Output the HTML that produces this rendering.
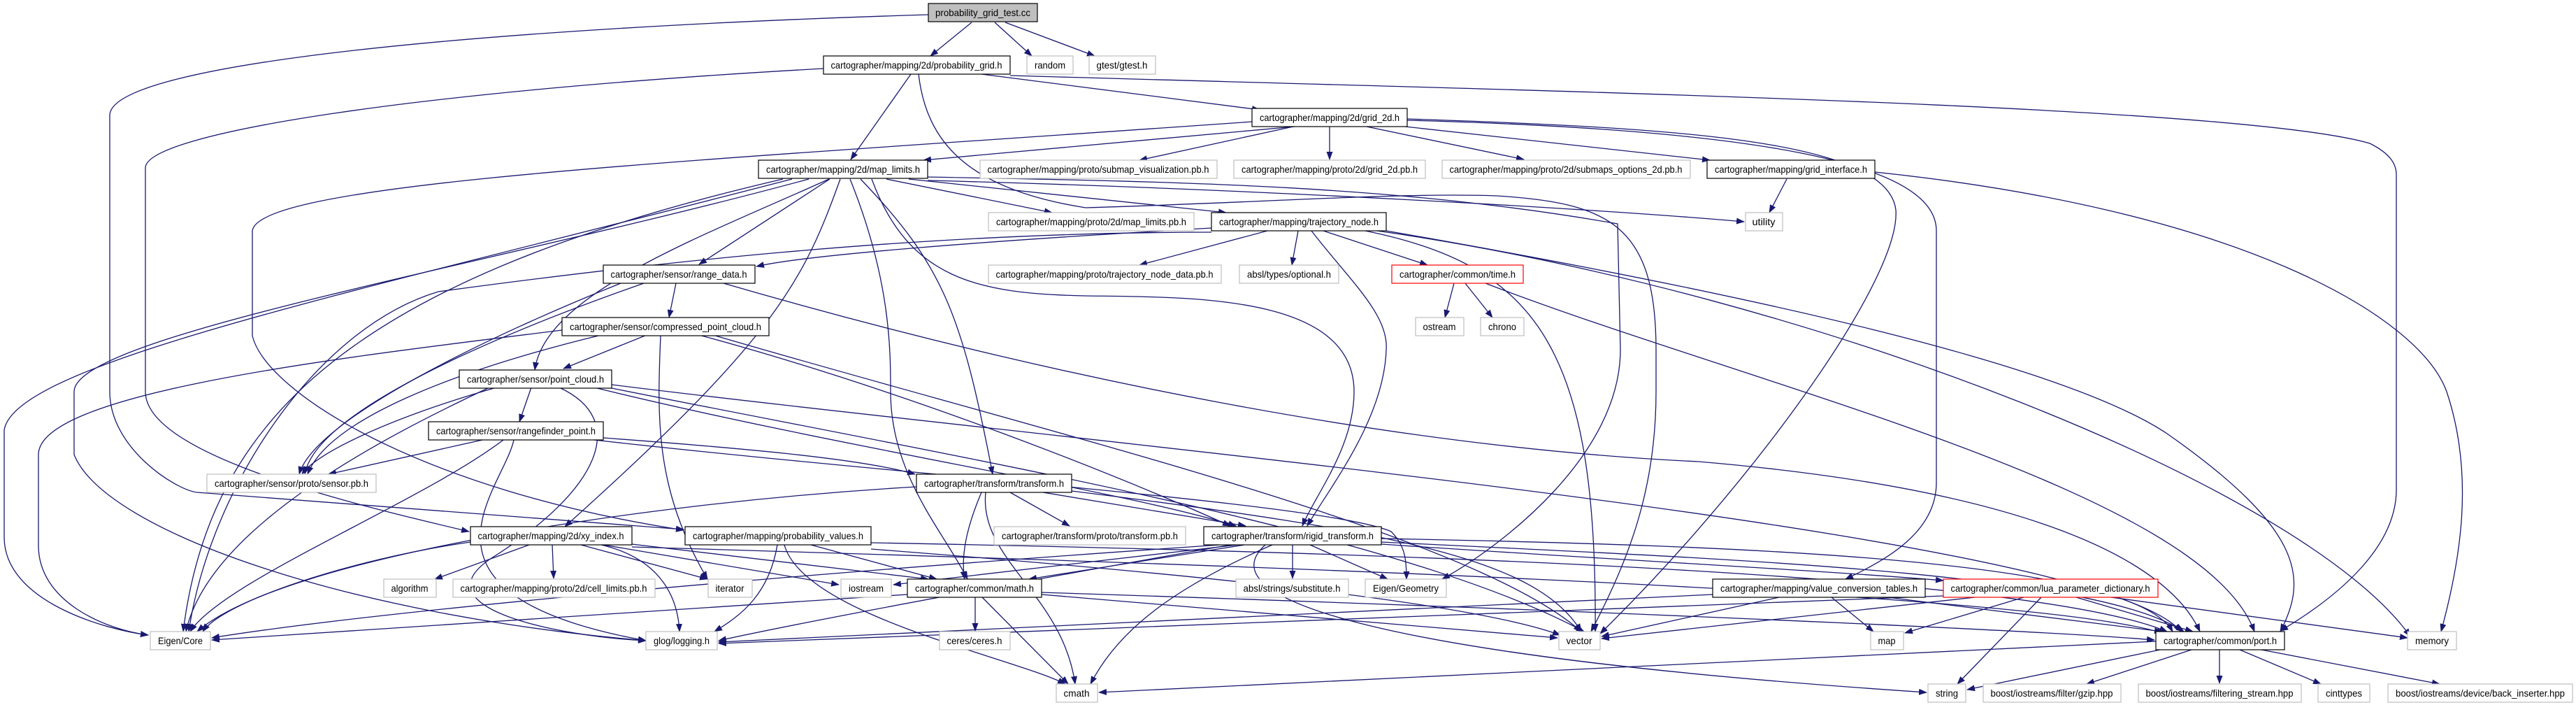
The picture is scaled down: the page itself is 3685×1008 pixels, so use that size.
<!DOCTYPE html>
<html><head><meta charset="utf-8"><style>
html,body{margin:0;padding:0;background:#fff;}
svg{display:block;}
text{font-family:"Liberation Sans",sans-serif;font-size:14px;fill:#000;}
.e{fill:none;stroke:#191970;stroke-width:1.3;}
.d{fill:#fff;stroke:#000;stroke-width:1.2;}
.u{fill:#fff;stroke:#bfbfbf;stroke-width:1.2;}
.r{fill:#fff;stroke:#ff0000;stroke-width:1.2;}
.s{fill:#555;}
</style></head><body>
<svg width="3685" height="1008" viewBox="0 0 3685 1008" xmlns="http://www.w3.org/2000/svg">
<defs><marker id="a" markerWidth="12" markerHeight="9" refX="11" refY="4.5" orient="auto" markerUnits="userSpaceOnUse"><path d="M0,0 L12,4.5 L0,9 z" fill="#191970"/></marker></defs>
<g marker-end="url(#a)" class="e">
<!-- test.cc -->
<path d="M1390,32 L1331,80"/>
<path d="M1423,32 L1476,80"/>
<path d="M1438,32 L1566,80"/>
<path d="M1328,21 C700,40 157,90 157,165 L157,560 C157,640 250,700 282,704 L978,757"/>
<!-- probability_grid.h -->
<path d="M1303,106 L1217,228"/>
<path d="M1404,106 L1802,157"/>
<path d="M1445,108 C2200,130 3200,150 3390,205 C3420,220 3428,235 3428,250 L3428,700 C3428,780 3350,850 3262,902"/>
<path d="M1178,98 C600,130 208,190 208,240 L208,560 C208,650 500,720 671,760"/>
<path d="M1314,106 C1325,200 1380,270 1553,297 C1800,290 2000,275 2141,280 C2300,290 2369,320 2369,500 L2369,560 C2369,700 2330,800 2276,903"/>
<!-- grid_2d.h -->
<path d="M1852,181 L1321,229"/>
<path d="M1850,181 L1630,229"/>
<path d="M1902,181 L1902,228"/>
<path d="M1955,181 L2180,228"/>
<path d="M2010,181 L2446,229"/>
<path d="M1791,174 C1000,230 369,260 361,330 L361,480 C380,560 600,700 978,758"/>
<path d="M2013,170 C2400,183 2700,200 2712,300 C2720,400 2500,700 2289,906"/>
<path d="M2013,172 C2500,185 2770,230 2770,330 L2770,690 C2770,760 2700,800 2640,828"/>
<!-- grid_interface -->
<path d="M2556,256 L2531,304"/>
<path d="M2682,246 C3200,300 3460,450 3500,560 C3540,680 3520,800 3492,903"/>
<!-- map_limits.h -->
<path d="M1133,256 C500,420 20,520 6,615 L6,768 C6,860 150,900 212,908"/>
<path d="M1157,256 C700,380 106,480 106,560 L106,650 C150,760 500,880 924,916"/>
<path d="M1186,256 C1000,340 780,420 765,529"/>
<path d="M1187,256 L1000,378"/>
<path d="M1202,256 C1150,400 1113,480 808,753"/>
<path d="M1216,256 C1274,400 1274,500 1274,560 C1274,680 1350,760 1384,828"/>
<path d="M1231,256 C1350,380 1376,450 1420,678"/>
<path d="M1247,256 C1300,400 1400,420 1553,423 C1700,425 1937,420 1937,560 C1937,640 1880,710 1863,752"/>
<path d="M1268,256 L1505,304"/>
<path d="M1300,256 L1754,304"/>
<path d="M1327,258 C1800,270 2300,300 2495,317"/>
<path d="M1325,253 C1700,260 2000,265 2314,320 L2318,500 C2318,650 2150,780 2063,828"/>
<path d="M1120,256 C500,400 300,600 262,903"/>
<!-- trajectory_node.h -->
<path d="M1733,326 C1400,345 1150,365 1082,381"/>
<path d="M1813,330 L1630,379"/>
<path d="M1857,330 L1848,379"/>
<path d="M1893,330 L2042,379"/>
<path d="M1876,330 C1930,400 1987,450 1983,500 C1980,600 1900,700 1870,752"/>
<path d="M1733,332 C1300,332 900,380 627,417 C450,470 300,700 270,903"/>
<path d="M1953,330 C2200,380 2285,500 2282,903"/>
<path d="M1983,330 C2500,420 2950,520 3100,620 C3300,760 3300,830 3262,903"/>
<path d="M1970,330 C2600,420 3300,700 3448,910"/>
<!-- time.h -->
<path d="M2080,405 L2067,454"/>
<path d="M2096,405 L2135,454"/>
<path d="M2125,405 C2500,550 3150,700 3225,903"/>
<!-- range_data.h -->
<path d="M967,405 L957,454"/>
<path d="M888,405 C700,480 450,600 428,678"/>
<path d="M921,405 C650,500 450,600 436,678"/>
<path d="M1035,405 C1500,540 2000,640 2430,660 C2900,700 3100,800 3147,903"/>
<!-- compressed_point_cloud.h -->
<path d="M925,479 L806,527"/>
<path d="M804,472 C500,510 55,560 55,650 L55,780 C55,860 150,900 212,908"/>
<path d="M860,479 C650,530 470,600 440,678"/>
<path d="M945,480 C940,600 937,700 1012,828"/>
<path d="M1020,479 C1500,620 2100,760 2262,903"/>
<path d="M1000,479 C1300,560 1600,680 1760,752"/>
<!-- point_cloud.h -->
<path d="M760,554 L743,603"/>
<path d="M710,554 C550,600 450,650 432,678"/>
<path d="M700,554 C560,620 300,750 266,903"/>
<path d="M800,554 C900,600 860,700 700,800 C600,870 800,910 924,916"/>
<path d="M850,554 C1200,640 1600,700 1768,752"/>
<path d="M875,550 C1600,640 3000,760 3120,903"/>
<path d="M865,553 C1400,660 2000,760 2266,903"/>
<!-- rangefinder_point.h -->
<path d="M690,629 L470,678"/>
<path d="M720,629 C600,720 320,830 272,903"/>
<path d="M735,629 C720,700 560,850 924,916"/>
<path d="M863,626 C1050,640 1230,655 1309,678"/>
<path d="M850,629 C1300,680 1900,720 1990,760 C2010,780 2012,800 2012,828"/>
<!-- transform.h -->
<path d="M1445,704 L1530,752"/>
<path d="M1492,704 L1782,752"/>
<path d="M1404,704 C1380,760 1375,800 1380,828"/>
<path d="M1410,704 C1400,800 1520,850 1538,978"/>
<path d="M1311,696 C900,720 400,800 282,903"/>
<path d="M1533,702 C2000,760 2200,800 2262,903"/>
<!-- xy_index.h -->
<path d="M757,779 L622,828"/>
<path d="M790,779 L792,827"/>
<path d="M831,779 L1012,828"/>
<path d="M863,779 L1200,836"/>
<path d="M860,779 C950,800 970,860 972,903"/>
<path d="M673,775 C500,800 320,860 290,903"/>
<path d="M904,778 L1328,828"/>
<path d="M904,782 C1500,800 2900,840 3096,906"/>
<!-- probability_values.h -->
<path d="M1112,779 C1100,850 1060,880 1022,903"/>
<path d="M1122,779 C1150,880 1450,940 1524,978"/>
<path d="M1160,779 L1340,828"/>
<path d="M1246,785 C1700,820 2100,860 2232,908"/>
<path d="M1246,776 C2000,790 2900,820 3100,903"/>
<!-- rigid_transform.h -->
<path d="M1780,779 L1472,828"/>
<path d="M1770,779 L1278,836"/>
<path d="M1849,779 L1849,827"/>
<path d="M1874,779 L1985,828"/>
<path d="M1820,779 C1680,840 1600,900 1560,978"/>
<path d="M1810,779 C1720,860 2000,940 2756,990"/>
<path d="M1760,779 C1300,860 1100,900 1028,916"/>
<path d="M1745,779 C1000,830 500,880 303,912"/>
<path d="M1976,770 C2500,780 3050,800 3108,903"/>
<path d="M1976,775 C2500,800 3000,820 3124,903"/>
<path d="M1976,778 C2300,800 2600,815 2780,830"/>
<!-- math.h -->
<path d="M1395,854 L1395,902"/>
<path d="M1405,854 L1528,978"/>
<path d="M1490,850 L2228,912"/>
<path d="M1490,847 C2200,870 2900,900 3082,915"/>
<path d="M1298,850 L303,915"/>
<!-- value_conversion_tables.h -->
<path d="M2620,854 L2680,903"/>
<path d="M2700,854 L3093,903"/>
<path d="M2545,854 L2291,910"/>
<path d="M2450,850 L1028,918"/>
<!-- lua_parameter_dictionary.h -->
<path d="M2895,854 L2725,905"/>
<path d="M2920,854 L2800,978"/>
<path d="M2970,854 L3137,903"/>
<path d="M3020,854 L3444,912"/>
<path d="M2825,854 L2291,913"/>
<path d="M2780,852 L1028,920"/>
<!-- port.h -->
<path d="M3090,929 L2814,986"/>
<path d="M3135,929 L2985,978"/>
<path d="M3175,929 L3175,977"/>
<path d="M3204,929 L3320,978"/>
<path d="M3235,929 L3490,978"/>
<path d="M3084,917 L1572,990"/>
</g>
<g>
<!-- node boxes -->
<rect x="1328" y="5" width="156" height="26" fill="#bfbfbf" stroke="#000" stroke-width="1.2"/>
<text x="1406" y="23" text-anchor="middle" textLength="136" lengthAdjust="spacingAndGlyphs">probability_grid_test.cc</text>

<rect class="d" x="1178" y="80" width="267" height="26"/><text x="1311" y="98" text-anchor="middle" textLength="245" lengthAdjust="spacingAndGlyphs">cartographer/mapping/2d/probability_grid.h</text>
<rect class="u" x="1469" y="80" width="66" height="26"/><text x="1502" y="98" text-anchor="middle" textLength="44" lengthAdjust="spacingAndGlyphs">random</text>
<rect class="u" x="1558" y="80" width="95" height="26"/><text x="1605" y="98" text-anchor="middle" textLength="73" lengthAdjust="spacingAndGlyphs">gtest/gtest.h</text>

<rect class="d" x="1791" y="155" width="222" height="26"/><text x="1902" y="173" text-anchor="middle" textLength="200" lengthAdjust="spacingAndGlyphs">cartographer/mapping/2d/grid_2d.h</text>

<rect class="d" x="1085" y="229" width="242" height="26"/><text x="1206" y="247" text-anchor="middle" textLength="220" lengthAdjust="spacingAndGlyphs">cartographer/mapping/2d/map_limits.h</text>
<rect class="u" x="1402" y="229" width="339" height="26"/><text x="1571" y="247" text-anchor="middle" textLength="317" lengthAdjust="spacingAndGlyphs">cartographer/mapping/proto/submap_visualization.pb.h</text>
<rect class="u" x="1765" y="229" width="274" height="26"/><text x="1902" y="247" text-anchor="middle" textLength="252" lengthAdjust="spacingAndGlyphs">cartographer/mapping/proto/2d/grid_2d.pb.h</text>
<rect class="u" x="2063" y="229" width="355" height="26"/><text x="2240" y="247" text-anchor="middle" textLength="333" lengthAdjust="spacingAndGlyphs">cartographer/mapping/proto/2d/submaps_options_2d.pb.h</text>
<rect class="d" x="2442" y="229" width="240" height="26"/><text x="2562" y="247" text-anchor="middle" textLength="218" lengthAdjust="spacingAndGlyphs">cartographer/mapping/grid_interface.h</text>

<rect class="u" x="1414" y="304" width="294" height="26"/><text x="1561" y="322" text-anchor="middle" textLength="272" lengthAdjust="spacingAndGlyphs">cartographer/mapping/proto/2d/map_limits.pb.h</text>
<rect class="d" x="1733" y="304" width="250" height="26"/><text x="1858" y="322" text-anchor="middle" textLength="228" lengthAdjust="spacingAndGlyphs">cartographer/mapping/trajectory_node.h</text>
<rect class="u" x="2497" y="304" width="53" height="26"/><text x="2523" y="322" text-anchor="middle" textLength="33" lengthAdjust="spacingAndGlyphs">utility</text>

<rect class="d" x="863" y="379" width="217" height="26"/><text x="971" y="397" text-anchor="middle" textLength="195" lengthAdjust="spacingAndGlyphs">cartographer/sensor/range_data.h</text>
<rect class="u" x="1414" y="379" width="333" height="26"/><text x="1580" y="397" text-anchor="middle" textLength="311" lengthAdjust="spacingAndGlyphs">cartographer/mapping/proto/trajectory_node_data.pb.h</text>
<rect class="u" x="1773" y="379" width="142" height="26"/><text x="1844" y="397" text-anchor="middle" textLength="120" lengthAdjust="spacingAndGlyphs">absl/types/optional.h</text>
<rect class="r" x="1991" y="379" width="188" height="26"/><text x="2085" y="397" text-anchor="middle" textLength="166" lengthAdjust="spacingAndGlyphs">cartographer/common/time.h</text>

<rect class="d" x="804" y="454" width="296" height="26"/><text x="952" y="472" text-anchor="middle" textLength="274" lengthAdjust="spacingAndGlyphs">cartographer/sensor/compressed_point_cloud.h</text>
<rect class="u" x="2025" y="454" width="69" height="26"/><text x="2059" y="472" text-anchor="middle" textLength="47" lengthAdjust="spacingAndGlyphs">ostream</text>
<rect class="u" x="2118" y="454" width="62" height="26"/><text x="2149" y="472" text-anchor="middle" textLength="40" lengthAdjust="spacingAndGlyphs">chrono</text>

<rect class="d" x="657" y="529" width="218" height="26"/><text x="766" y="547" text-anchor="middle" textLength="196" lengthAdjust="spacingAndGlyphs">cartographer/sensor/point_cloud.h</text>

<rect class="d" x="613" y="603" width="250" height="26"/><text x="738" y="621" text-anchor="middle" textLength="228" lengthAdjust="spacingAndGlyphs">cartographer/sensor/rangefinder_point.h</text>

<rect class="u" x="296" y="678" width="242" height="26"/><text x="417" y="696" text-anchor="middle" textLength="220" lengthAdjust="spacingAndGlyphs">cartographer/sensor/proto/sensor.pb.h</text>
<rect class="d" x="1311" y="678" width="222" height="26"/><text x="1422" y="696" text-anchor="middle" textLength="200" lengthAdjust="spacingAndGlyphs">cartographer/transform/transform.h</text>

<rect class="d" x="673" y="753" width="231" height="26"/><text x="788" y="771" text-anchor="middle" textLength="209" lengthAdjust="spacingAndGlyphs">cartographer/mapping/2d/xy_index.h</text>
<rect class="d" x="980" y="753" width="266" height="26"/><text x="1113" y="771" text-anchor="middle" textLength="244" lengthAdjust="spacingAndGlyphs">cartographer/mapping/probability_values.h</text>
<rect class="u" x="1422" y="753" width="274" height="26"/><text x="1559" y="771" text-anchor="middle" textLength="252" lengthAdjust="spacingAndGlyphs">cartographer/transform/proto/transform.pb.h</text>
<rect class="d" x="1722" y="753" width="254" height="26"/><text x="1849" y="771" text-anchor="middle" textLength="232" lengthAdjust="spacingAndGlyphs">cartographer/transform/rigid_transform.h</text>

<rect class="u" x="549" y="828" width="75" height="26"/><text x="586" y="846" text-anchor="middle" textLength="53" lengthAdjust="spacingAndGlyphs">algorithm</text>
<rect class="u" x="648" y="828" width="289" height="26"/><text x="792" y="846" text-anchor="middle" textLength="267" lengthAdjust="spacingAndGlyphs">cartographer/mapping/proto/2d/cell_limits.pb.h</text>
<rect class="u" x="1013" y="828" width="63" height="26"/><text x="1044" y="846" text-anchor="middle" textLength="41" lengthAdjust="spacingAndGlyphs">iterator</text>
<rect class="u" x="1203" y="828" width="72" height="26"/><text x="1239" y="846" text-anchor="middle" textLength="50" lengthAdjust="spacingAndGlyphs">iostream</text>
<rect class="d" x="1298" y="828" width="192" height="26"/><text x="1394" y="846" text-anchor="middle" textLength="170" lengthAdjust="spacingAndGlyphs">cartographer/common/math.h</text>
<rect class="u" x="1768" y="828" width="161" height="26"/><text x="1848" y="846" text-anchor="middle" textLength="139" lengthAdjust="spacingAndGlyphs">absl/strings/substitute.h</text>
<rect class="u" x="1953" y="828" width="116" height="26"/><text x="2011" y="846" text-anchor="middle" textLength="94" lengthAdjust="spacingAndGlyphs">Eigen/Geometry</text>
<rect class="d" x="2450" y="828" width="304" height="26"/><text x="2602" y="846" text-anchor="middle" textLength="282" lengthAdjust="spacingAndGlyphs">cartographer/mapping/value_conversion_tables.h</text>
<rect class="r" x="2780" y="828" width="307" height="26"/><text x="2933" y="846" text-anchor="middle" textLength="285" lengthAdjust="spacingAndGlyphs">cartographer/common/lua_parameter_dictionary.h</text>

<rect class="u" x="215" y="903" width="86" height="26"/><text x="258" y="921" text-anchor="middle" textLength="64" lengthAdjust="spacingAndGlyphs">Eigen/Core</text>
<rect class="u" x="924" y="903" width="102" height="26"/><text x="975" y="921" text-anchor="middle" textLength="80" lengthAdjust="spacingAndGlyphs">glog/logging.h</text>
<rect class="u" x="1344" y="903" width="101" height="26"/><text x="1394" y="921" text-anchor="middle" textLength="79" lengthAdjust="spacingAndGlyphs">ceres/ceres.h</text>
<rect class="u" x="2230" y="903" width="59" height="26"/><text x="2259" y="921" text-anchor="middle" textLength="37" lengthAdjust="spacingAndGlyphs">vector</text>
<rect class="u" x="2676" y="903" width="47" height="26"/><text x="2699" y="921" text-anchor="middle" textLength="25" lengthAdjust="spacingAndGlyphs">map</text>
<rect class="d" x="3084" y="903" width="184" height="26"/><text x="3176" y="921" text-anchor="middle" textLength="162" lengthAdjust="spacingAndGlyphs">cartographer/common/port.h</text>
<rect class="u" x="3444" y="903" width="70" height="26"/><text x="3479" y="921" text-anchor="middle" textLength="48" lengthAdjust="spacingAndGlyphs">memory</text>

<rect class="u" x="1511" y="978" width="59" height="26"/><text x="1540" y="996" text-anchor="middle" textLength="37" lengthAdjust="spacingAndGlyphs">cmath</text>
<rect class="u" x="2758" y="978" width="54" height="26"/><text x="2785" y="996" text-anchor="middle" textLength="32" lengthAdjust="spacingAndGlyphs">string</text>
<rect class="u" x="2837" y="978" width="197" height="26"/><text x="2935" y="996" text-anchor="middle" textLength="175" lengthAdjust="spacingAndGlyphs">boost/iostreams/filter/gzip.hpp</text>
<rect class="u" x="3059" y="978" width="233" height="26"/><text x="3175" y="996" text-anchor="middle" textLength="211" lengthAdjust="spacingAndGlyphs">boost/iostreams/filtering_stream.hpp</text>
<rect class="u" x="3316" y="978" width="74" height="26"/><text x="3353" y="996" text-anchor="middle" textLength="52" lengthAdjust="spacingAndGlyphs">cinttypes</text>
<rect class="u" x="3416" y="978" width="264" height="26"/><text x="3548" y="996" text-anchor="middle" textLength="242" lengthAdjust="spacingAndGlyphs">boost/iostreams/device/back_inserter.hpp</text>
</g>
</svg>
</body></html>
